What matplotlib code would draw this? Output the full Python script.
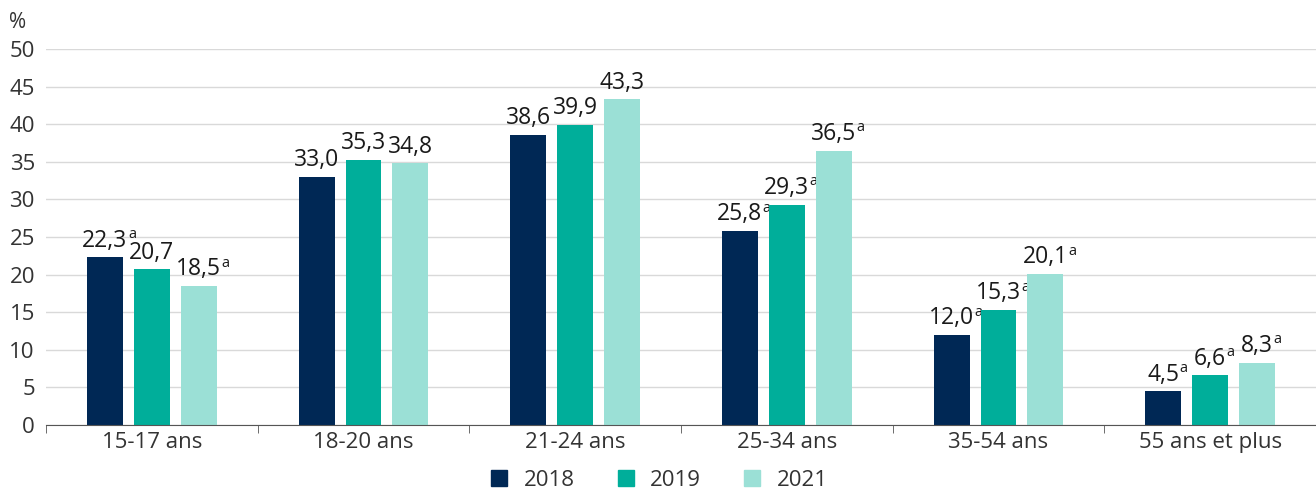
import numpy as np
import matplotlib.pyplot as plt
from matplotlib.lines import Line2D

plt.rcParams['font.family'] = ['Open Sans', 'DejaVu Sans']

categories = ["15-17 ans", "18-20 ans", "21-24 ans", "25-34 ans", "35-54 ans", "55 ans et plus"]
years = ["2018", "2019", "2021"]
v2018 = [22.3, 33.0, 38.6, 25.8, 12.0, 4.5]
v2019 = [20.7, 35.3, 39.9, 29.3, 15.3, 6.6]
v2021 = [18.5, 34.8, 43.3, 36.5, 20.1, 8.3]
# significance flag "a"
f2018 = [True, False, False, True, True, True]
f2019 = [False, False, False, True, True, True]
f2021 = [True, False, False, True, True, True]

colors = ["#002855", "#00ae9a", "#9be0d6"]
text_col = "#333333"

fig = plt.figure(figsize=(13.16, 4.92), dpi=100)
ax = fig.add_axes([46 / 1316, 67 / 492, 1 - 46 / 1316, 376 / 492])

x = np.arange(len(categories))
w = 0.17
step = 0.222
for i, (vals, flags) in enumerate(zip([v2018, v2019, v2021], [f2018, f2019, f2021])):
    pos = x + (i - 1) * step
    ax.bar(pos, vals, width=w, color=colors[i], zorder=3)
    for p, v, f in zip(pos, vals, flags):
        s = f"{v:.1f}".replace(".", ",")
        t = ax.text(p, v + 0.6, s, ha="center", va="bottom", fontsize=16.5, color="#1a1a1a")
        if f:
            ax.annotate("a", xy=(1, 0.76), xycoords=t, xytext=(0.3, 0),
                        textcoords="offset points", ha="left", va="center",
                        fontsize=10.5, color="#1a1a1a")

ax.set_xlim(-0.5, len(categories) - 0.5)
ax.set_ylim(0, 50)
ax.set_yticks(range(0, 51, 5))
ax.set_xticks(x)
ax.set_xticklabels(categories)
ax.set_xticks(np.arange(-0.5, len(categories), 1), minor=True)
ax.tick_params(axis="x", which="major", length=0, pad=5, labelsize=16, labelcolor=text_col)
ax.tick_params(axis="x", which="minor", length=6, color="#555555", direction="out")
ax.tick_params(axis="y", length=0, pad=8, labelsize=16, labelcolor=text_col)
ax.grid(axis="y", color="#d9d9d9", lw=1, zorder=0)
for side in ["top", "right", "left"]:
    ax.spines[side].set_visible(False)
ax.spines["bottom"].set_color("#555555")
ax.spines["bottom"].set_zorder(4)

fig.text(9 / 1316, 1 - 22 / 492, "%", fontsize=15, color=text_col, va="center")

handles = [Line2D([], [], marker="s", ls="", markersize=12, color=c) for c in colors]
fig.legend(handles, years, loc="center", bbox_to_anchor=(0.5, 1 - 480 / 492), ncol=3,
           frameon=False, fontsize=16, labelcolor=text_col, handletextpad=0.6,
           columnspacing=1.8, handlelength=1.0)

fig.savefig("out.png", dpi=100)
